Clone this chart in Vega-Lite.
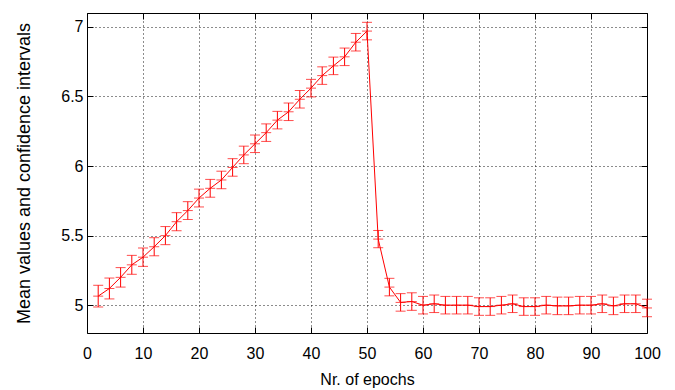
{
  "$schema": "https://vega.github.io/schema/vega-lite/v6.json",
  "width": 560,
  "height": 320,
  "autosize": {"type": "none"},
  "padding": {"left": 87, "top": 13, "right": 28, "bottom": 57},
  "background": "white",
  "config": {
    "view": {"stroke": "black", "strokeWidth": 1},
    "font": "Liberation Sans",
    "axis": {
      "domain": false,
      "labelFont": "Liberation Sans",
      "titleFont": "Liberation Sans",
      "labelColor": "black",
      "titleColor": "black",
      "titleFontWeight": "normal",
      "tickColor": "black",
      "gridColor": "black",
      "gridDash": [1, 3],
      "gridOpacity": 0.9
    }
  },
  "data": {
    "values": [
      {"epoch": 2, "mean": 5.065, "lo": 4.987, "hi": 5.143},
      {"epoch": 4, "mean": 5.12, "lo": 5.045, "hi": 5.195},
      {"epoch": 6, "mean": 5.2, "lo": 5.13, "hi": 5.27},
      {"epoch": 8, "mean": 5.29, "lo": 5.222, "hi": 5.358},
      {"epoch": 10, "mean": 5.345, "lo": 5.279, "hi": 5.411},
      {"epoch": 12, "mean": 5.42, "lo": 5.355, "hi": 5.485},
      {"epoch": 14, "mean": 5.5, "lo": 5.435, "hi": 5.565},
      {"epoch": 16, "mean": 5.6, "lo": 5.535, "hi": 5.665},
      {"epoch": 18, "mean": 5.68, "lo": 5.616, "hi": 5.744},
      {"epoch": 20, "mean": 5.77, "lo": 5.706, "hi": 5.834},
      {"epoch": 22, "mean": 5.84, "lo": 5.776, "hi": 5.904},
      {"epoch": 24, "mean": 5.9, "lo": 5.837, "hi": 5.963},
      {"epoch": 26, "mean": 5.99, "lo": 5.927, "hi": 6.053},
      {"epoch": 28, "mean": 6.08, "lo": 6.017, "hi": 6.143},
      {"epoch": 30, "mean": 6.16, "lo": 6.097, "hi": 6.223},
      {"epoch": 32, "mean": 6.24, "lo": 6.177, "hi": 6.303},
      {"epoch": 34, "mean": 6.33, "lo": 6.267, "hi": 6.393},
      {"epoch": 36, "mean": 6.39, "lo": 6.327, "hi": 6.453},
      {"epoch": 38, "mean": 6.48, "lo": 6.417, "hi": 6.543},
      {"epoch": 40, "mean": 6.56, "lo": 6.497, "hi": 6.623},
      {"epoch": 42, "mean": 6.65, "lo": 6.587, "hi": 6.713},
      {"epoch": 44, "mean": 6.72, "lo": 6.657, "hi": 6.783},
      {"epoch": 46, "mean": 6.785, "lo": 6.722, "hi": 6.848},
      {"epoch": 48, "mean": 6.89, "lo": 6.827, "hi": 6.953},
      {"epoch": 50, "mean": 6.97, "lo": 6.907, "hi": 7.033},
      {"epoch": 52, "mean": 5.475, "lo": 5.413, "hi": 5.537},
      {"epoch": 54, "mean": 5.13, "lo": 5.067, "hi": 5.193},
      {"epoch": 56, "mean": 5.02, "lo": 4.957, "hi": 5.083},
      {"epoch": 58, "mean": 5.026, "lo": 4.963, "hi": 5.089},
      {"epoch": 60, "mean": 5.0, "lo": 4.937, "hi": 5.063},
      {"epoch": 62, "mean": 5.01, "lo": 4.947, "hi": 5.073},
      {"epoch": 64, "mean": 5.0, "lo": 4.937, "hi": 5.063},
      {"epoch": 66, "mean": 5.0, "lo": 4.937, "hi": 5.063},
      {"epoch": 68, "mean": 5.0, "lo": 4.937, "hi": 5.063},
      {"epoch": 70, "mean": 4.99, "lo": 4.927, "hi": 5.053},
      {"epoch": 72, "mean": 4.99, "lo": 4.927, "hi": 5.053},
      {"epoch": 74, "mean": 5.0, "lo": 4.937, "hi": 5.063},
      {"epoch": 76, "mean": 5.01, "lo": 4.947, "hi": 5.073},
      {"epoch": 78, "mean": 4.99, "lo": 4.927, "hi": 5.053},
      {"epoch": 80, "mean": 4.99, "lo": 4.927, "hi": 5.053},
      {"epoch": 82, "mean": 5.0, "lo": 4.937, "hi": 5.063},
      {"epoch": 84, "mean": 4.995, "lo": 4.932, "hi": 5.058},
      {"epoch": 86, "mean": 4.995, "lo": 4.932, "hi": 5.058},
      {"epoch": 88, "mean": 5.0, "lo": 4.937, "hi": 5.063},
      {"epoch": 90, "mean": 5.0, "lo": 4.937, "hi": 5.063},
      {"epoch": 92, "mean": 5.01, "lo": 4.947, "hi": 5.073},
      {"epoch": 94, "mean": 4.995, "lo": 4.932, "hi": 5.058},
      {"epoch": 96, "mean": 5.01, "lo": 4.947, "hi": 5.073},
      {"epoch": 98, "mean": 5.01, "lo": 4.947, "hi": 5.073},
      {"epoch": 100, "mean": 4.98, "lo": 4.917, "hi": 5.043}
    ]
  },
  "layer": [
    {
      "mark": {"type": "rule", "color": "#ff0000", "strokeWidth": 1},
      "encoding": {
        "x": {
          "field": "epoch", "type": "quantitative",
          "scale": {"domain": [0, 100], "nice": false, "zero": false},
          "axis": {
            "orient": "bottom",
            "values": [0, 10, 20, 30, 40, 50, 60, 70, 80, 90, 100],
            "title": "Nr. of epochs",
            "titleFontSize": 16,
            "labelFontSize": 16,
            "tickSize": -6,
            "labelPadding": 18,
            "titlePadding": 10,
            "grid": true,
            "labelFlush": false
          }
        },
        "y": {
          "field": "lo", "type": "quantitative",
          "scale": {"domain": [4.8, 7.1], "nice": false, "zero": false},
          "axis": {
            "orient": "left",
            "values": [5, 5.5, 6, 6.5, 7],
            "format": "~g",
            "title": "Mean values and confidence intervals",
            "titleFontSize": 18,
            "labelFontSize": 16,
            "tickSize": -6,
            "labelPadding": 10,
            "titlePadding": 27,
            "grid": true
          }
        },
        "y2": {"field": "hi"}
      }
    },
    {
      "mark": {"type": "tick", "color": "#ff0000", "orient": "horizontal", "size": 10, "thickness": 1},
      "encoding": {
        "x": {"field": "epoch", "type": "quantitative", "axis": null},
        "y": {"field": "lo", "type": "quantitative", "axis": null}
      }
    },
    {
      "mark": {"type": "tick", "color": "#ff0000", "orient": "horizontal", "size": 10, "thickness": 1},
      "encoding": {
        "x": {"field": "epoch", "type": "quantitative", "axis": null},
        "y": {"field": "hi", "type": "quantitative", "axis": null}
      }
    },
    {
      "mark": {"type": "tick", "color": "#ff0000", "orient": "horizontal", "size": 10, "thickness": 1},
      "encoding": {
        "x": {"field": "epoch", "type": "quantitative", "axis": null},
        "y": {"field": "mean", "type": "quantitative", "axis": null}
      }
    },
    {
      "mark": {"type": "line", "color": "#ff0000", "strokeWidth": 1},
      "encoding": {
        "x": {"field": "epoch", "type": "quantitative", "axis": null},
        "y": {"field": "mean", "type": "quantitative", "axis": null}
      }
    },
    {
      "mark": {"type": "point", "opacity": 0},
      "encoding": {
        "x": {
          "field": "epoch", "type": "quantitative",
          "axis": {"orient": "top", "values": [0, 10, 20, 30, 40, 50, 60, 70, 80, 90, 100], "labels": false, "title": null, "tickSize": -6, "grid": false}
        },
        "y": {
          "field": "mean", "type": "quantitative",
          "axis": {"orient": "right", "values": [5, 5.5, 6, 6.5, 7], "labels": false, "title": null, "tickSize": -6, "grid": false}
        }
      }
    }
  ],
  "resolve": {"axis": {"x": "independent", "y": "independent"}}
}
